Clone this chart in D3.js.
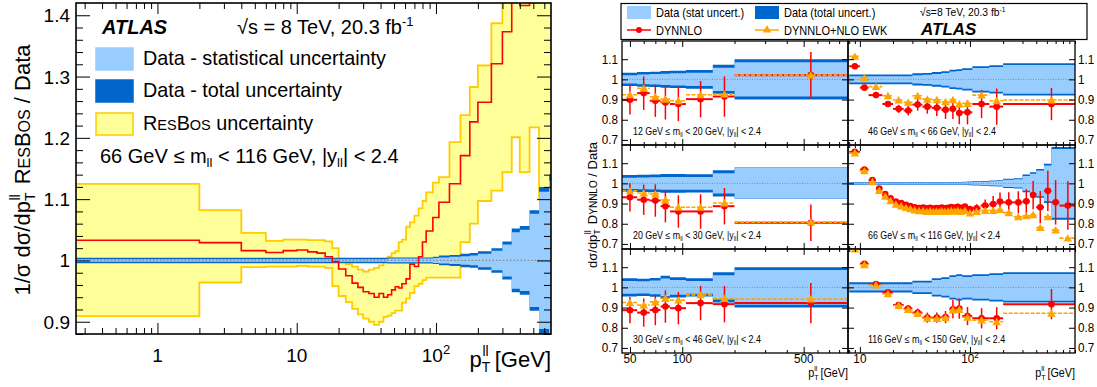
<!DOCTYPE html>
<html>
<head>
<meta charset="utf-8">
<script src="https://cdn.jsdelivr.net/npm/d3@7"></script>
<style>
  body { margin: 0; background: #fff; }
  svg { display: block; font-family: "Liberation Sans", Arial, Helvetica, sans-serif; }
</style>
</head>
<body>
<svg id="chart" width="1097" height="387"></svg>
<script>
// ---------- left plot: ResBos / data, 66 < m < 116 GeV ----------
const ptEdges = [0,2,4,6,8,10,12,14,16,18,20,22.5,25,27.5,30,33,36,39,42,45,48,51,54,57,61,65,70,75,80,85,95,105,125,150,175,200,250,300,350,400,470,550,650,900];
const resbosRatio = [1.033,1.029,1.016,1.013,1.016,1.017,1.014,1.012,1.006,0.998,
  0.986,0.975,0.963,0.956,0.949,0.946,0.940,0.946,0.940,0.944,
  0.952,0.957,0.955,0.962,0.970,0.994,0.990,1.006,1.030,1.048,
  1.070,1.095,1.125,1.171,1.226,1.258,1.321,1.373,1.440,1.416,
  1.460,1.500,1.500];
const resbosHigh = [1.125,1.082,1.045,1.032,1.034,1.034,1.033,1.033,1.031,1.020,
  1.003,0.994,0.990,0.985,0.982,0.985,0.988,0.992,1.000,1.006,
  1.012,1.015,1.030,1.034,1.055,1.062,1.073,1.085,1.097,1.111,
  1.127,1.136,1.193,1.237,1.283,1.318,1.387,1.500,1.500,1.500,
  1.500,1.500,1.500];
const resbosLow = [0.909,0.964,0.989,0.990,0.990,0.991,0.990,0.990,0.988,0.958,
  0.942,0.932,0.921,0.912,0.905,0.900,0.895,0.900,0.908,0.910,
  0.914,0.918,0.918,0.931,0.938,0.947,0.958,0.962,0.968,0.972,
  0.972,0.972,0.972,1.030,1.060,1.097,1.114,1.144,1.201,1.144,
  1.217,1.100,1.100];
const dataTotErr = [0.0045,0.0045,0.0045,0.0045,0.0045,0.0045,0.0045,0.0045,0.0045,0.0045,
  0.0045,0.0045,0.0045,0.0045,0.0045,0.0045,0.0045,0.0045,0.0045,0.005,
  0.005,0.005,0.005,0.005,0.005,0.005,0.005,0.005,0.005,0.005,
  0.006,0.008,0.009,0.011,0.012,0.015,0.020,0.031,0.052,0.056,
  0.082,0.120,0.140];
const dataStatErr = [0.002,0.002,0.002,0.002,0.002,0.002,0.002,0.002,0.002,0.002,
  0.002,0.002,0.002,0.002,0.002,0.002,0.002,0.002,0.002,0.003,
  0.003,0.003,0.003,0.003,0.003,0.003,0.003,0.003,0.003,0.003,
  0.004,0.005,0.006,0.007,0.008,0.011,0.016,0.026,0.046,0.050,
  0.076,0.112,0.130];

// ---------- right plots: DYNNLO / data in mass bins ----------
const massLo = [12, 46, 20, 66, 30, 116];
const massHi = [20, 66, 30, 116, 46, 150];

const lowEdges = [45,55,65,75,85,105,150,200,900];
const m12Dynnlo = [0.899,0.932,0.894,0.886,0.878,0.902,0.915,1.021];
const m12Ewk    = [0.924,0.956,0.914,0.902,0.894,0.924,0.927,1.021];
const m12Err    = [0.073,0.083,0.080,0.085,0.085,0.090,0.100,0.115];
const m12Tot    = [0.033,0.036,0.038,0.041,0.043,0.046,0.072,0.100];
const m12Stat   = [0.021,0.024,0.026,0.028,0.030,0.033,0.057,0.085];

const m20Dynnlo = [0.931,0.919,0.915,0.887,0.861,0.861,0.887,0.805];
const m20Ewk    = [0.963,0.952,0.947,0.918,0.882,0.882,0.903,0.808];
const m20Err    = [0.070,0.075,0.080,0.080,0.080,0.085,0.090,0.090];
const m20Tot    = [0.042,0.043,0.044,0.046,0.046,0.045,0.065,0.078];
const m20Stat   = [0.028,0.029,0.030,0.032,0.032,0.032,0.050,0.076];

const m30Dynnlo = [0.887,0.875,0.888,0.905,0.897,0.922,0.917,0.922];
const m30Ewk    = [0.925,0.912,0.928,0.945,0.937,0.963,0.945,0.942];
const m30Err    = [0.065,0.070,0.075,0.080,0.080,0.085,0.090,0.100];
const m30Tot    = [0.045,0.043,0.047,0.058,0.050,0.045,0.075,0.100];
const m30Stat   = [0.032,0.030,0.034,0.044,0.036,0.032,0.060,0.086];

const midEdges = [8,10,12,16,20,25,30,37,45,55,65,75,85,105,150,200,900];
const m46Dynnlo = [1.065,0.959,0.922,0.878,0.854,0.846,0.875,0.865,0.859,0.849,0.854,0.833,0.837,0.878,0.865,0.878];
const m46Ewk    = [1.114,1.008,0.964,0.919,0.898,0.886,0.919,0.902,0.899,0.889,0.899,0.878,0.881,0.922,0.894,0.898];
const m46Err    = [0.008,0.010,0.010,0.015,0.020,0.025,0.030,0.035,0.040,0.045,0.050,0.055,0.060,0.070,0.090,0.080];
const m46Tot    = [0.024,0.024,0.024,0.024,0.024,0.024,0.030,0.032,0.036,0.040,0.048,0.050,0.055,0.065,0.070,0.080];
const m46Stat   = [0.016,0.016,0.016,0.016,0.016,0.016,0.021,0.023,0.027,0.031,0.039,0.041,0.046,0.056,0.061,0.071];

const m116Dynnlo = [1.205,1.117,1.017,0.975,0.913,0.895,0.875,0.850,0.850,0.853,0.892,0.895,0.858,0.847,0.847,0.917];
const m116Ewk    = [1.190,1.112,1.012,0.968,0.910,0.890,0.870,0.847,0.846,0.850,0.888,0.890,0.852,0.838,0.830,0.872];
const m116Err    = [0.008,0.010,0.010,0.012,0.015,0.018,0.020,0.025,0.025,0.030,0.045,0.050,0.045,0.050,0.055,0.075];
const m116Tot    = [0.025,0.025,0.025,0.025,0.025,0.025,0.033,0.033,0.045,0.050,0.060,0.065,0.060,0.065,0.070,0.075];
const m116Stat   = [0.016,0.016,0.016,0.016,0.016,0.016,0.024,0.024,0.036,0.041,0.051,0.056,0.051,0.056,0.061,0.066];

const fineEdges = [8,10,12,14,16,18,20,22.5,25,27.5,30,33,36,39,42,45,48,51,54,57,61,65,70,75,80,85,95,105,125,150,175,200,250,300,350,400,470,550,650,900];
const m66Dynnlo = [1.156,1.068,1.016,0.974,0.947,0.926,0.910,0.902,0.894,0.888,
  0.882,0.878,0.880,0.876,0.879,0.875,0.878,0.876,0.880,0.877,
  0.879,0.883,0.880,0.884,0.879,0.885,0.873,0.877,0.890,0.898,
  0.910,0.906,0.906,0.911,0.942,0.882,0.963,0.906,0.890];
const m66Ewk = [1.150,1.062,1.008,0.964,0.936,0.914,0.897,0.888,0.880,0.874,
  0.868,0.864,0.865,0.861,0.864,0.860,0.862,0.860,0.864,0.861,
  0.862,0.866,0.862,0.866,0.860,0.866,0.853,0.861,0.866,0.866,
  0.870,0.855,0.834,0.839,0.845,0.781,0.834,0.769,0.729];
const m66Err = [0.004,0.004,0.004,0.004,0.004,0.004,0.004,0.004,0.004,0.004,
  0.005,0.005,0.005,0.005,0.005,0.006,0.006,0.006,0.007,0.007,
  0.008,0.008,0.009,0.010,0.011,0.012,0.015,0.020,0.030,0.040,
  0.045,0.050,0.055,0.060,0.070,0.080,0.100,0.110,0.120];
const m66Tot = [0.007,0.007,0.007,0.007,0.007,0.007,0.007,0.007,0.007,0.007,
  0.007,0.007,0.007,0.007,0.007,0.007,0.007,0.007,0.007,0.007,
  0.007,0.007,0.007,0.007,0.007,0.008,0.009,0.010,0.012,0.014,
  0.016,0.023,0.025,0.044,0.055,0.071,0.097,0.180,0.180];
const m66Stat = [0.004,0.004,0.004,0.004,0.004,0.004,0.004,0.004,0.004,0.004,
  0.004,0.004,0.004,0.004,0.004,0.004,0.004,0.004,0.004,0.004,
  0.004,0.004,0.004,0.004,0.004,0.005,0.006,0.007,0.008,0.010,
  0.012,0.018,0.020,0.037,0.048,0.064,0.089,0.170,0.170];

const lightBlue = "#99ccff", darkBlue = "#0066cc", yellow = "#ffff99", yellowEdge = "#ffcc00";
const red = "#ff0000", orange = "#ffa500";

const svg = d3.select("#chart");
const defs = svg.append("defs");

// step polygon between lo and hi values over bins
function stepBand(edges, lo, hi, x, y) {
  const xmin = x.domain()[0] * 0.98;
  const pts = [];
  lo.forEach((v, i) => {
    pts.push({x: Math.max(edges[i], xmin), lo: lo[i], hi: hi[i]});
    pts.push({x: edges[i + 1], lo: lo[i], hi: hi[i]});
  });
  return d3.area().x(d => x(d.x)).y0(d => y(d.lo)).y1(d => y(d.hi))(pts);
}
function stepLine(edges, vals, x, y) {
  const xmin = x.domain()[0] * 0.98;
  const pts = [];
  vals.forEach((v, i) => {
    pts.push([Math.max(edges[i], xmin), v]);
    pts.push([edges[i + 1], v]);
  });
  return d3.line().x(d => x(d[0])).y(d => y(d[1]))(pts);
}
function ticks(g, axis, size, values) {
  g.call(axis.tickValues(values).tickSize(size).tickFormat(""));
  g.select(".domain").remove();
  g.selectAll("line").attr("stroke", "#000");
}
function txt(parent, x, y, size, anchor, sx) {
  return parent.append("text")
    .attr("transform", `translate(${x},${y}) scale(${sx || 1},1)`)
    .attr("font-size", size)
    .attr("text-anchor", anchor || "start");
}
function massText(t, lo, hi, dy) {
  t.append("tspan").text(`${lo} GeV ≤ m`);
  t.append("tspan").attr("font-size", "65%").attr("dy", dy).text("ll");
  t.append("tspan").attr("dy", -dy).text(` < ${hi} GeV, |y`);
  t.append("tspan").attr("font-size", "65%").attr("dy", dy).text("ll");
  t.append("tspan").attr("dy", -dy).text("| < 2.4");
}
function ptTitle(t, sub, dxs, up) {
  t.append("tspan").text("p");
  t.append("tspan").attr("font-size", sub).attr("dy", up * 0.4).text("T");
  t.append("tspan").attr("font-size", sub).attr("dx", dxs).attr("dy", -up * 1.3).text("ll");
  t.append("tspan").attr("dy", up * 0.9).text(" [GeV]");
}

// ================= LEFT PLOT =================
const L = {x0: 76, x1: 551, y0: 3, y1: 334};
const xL = d3.scaleLog().domain([0.26, 670]).range([L.x0, L.x1]);
const yL = d3.scaleLinear().domain([0.88, 1.42]).range([L.y1, L.y0]);

defs.append("clipPath").attr("id", "clipL").append("rect")
  .attr("x", L.x0).attr("y", L.y0).attr("width", L.x1 - L.x0).attr("height", L.y1 - L.y0);
const gL = svg.append("g").attr("clip-path", "url(#clipL)");

gL.append("path").attr("d", stepBand(ptEdges, resbosLow, resbosHigh, xL, yL))
  .attr("fill", yellow).attr("stroke", yellowEdge).attr("stroke-width", 1.8);
gL.append("path").attr("d", stepBand(ptEdges, dataTotErr.map(e => 1 - e), dataTotErr.map(e => 1 + e), xL, yL))
  .attr("fill", darkBlue);
gL.append("path").attr("d", stepBand(ptEdges, dataStatErr.map(e => 1 - e), dataStatErr.map(e => 1 + e), xL, yL))
  .attr("fill", lightBlue);
gL.append("line").attr("x1", L.x0).attr("x2", L.x1).attr("y1", yL(1)).attr("y2", yL(1))
  .attr("stroke", "#888").attr("stroke-width", 1.2).attr("stroke-dasharray", "1.5,2");
gL.append("path").attr("d", stepLine(ptEdges, resbosRatio, xL, yL))
  .attr("fill", "none").attr("stroke", red).attr("stroke-width", 1.6);

// axes ticks
const yMajorL = [0.9, 1.0, 1.1, 1.2, 1.3, 1.4];
const yMinorL = d3.range(44, 71).map(k => k / 50).filter(v => !yMajorL.some(m => Math.abs(m - v) < 1e-6));
const xMajorL = [1, 10, 100];
const xMinorL = [0.3,0.4,0.5,0.6,0.7,0.8,0.9,2,3,4,5,6,7,8,9,20,30,40,50,60,70,80,90,200,300,400,500,600];
ticks(svg.append("g").attr("transform", `translate(${L.x0},0)`), d3.axisLeft(yL), -14, yMajorL);
ticks(svg.append("g").attr("transform", `translate(${L.x0},0)`), d3.axisLeft(yL), -7, yMinorL);
ticks(svg.append("g").attr("transform", `translate(${L.x1},0)`), d3.axisRight(yL), -14, yMajorL);
ticks(svg.append("g").attr("transform", `translate(${L.x1},0)`), d3.axisRight(yL), -7, yMinorL);
ticks(svg.append("g").attr("transform", `translate(0,${L.y1})`), d3.axisBottom(xL), -11, xMajorL);
ticks(svg.append("g").attr("transform", `translate(0,${L.y1})`), d3.axisBottom(xL), -6, xMinorL);
ticks(svg.append("g").attr("transform", `translate(0,${L.y0})`), d3.axisTop(xL), -11, xMajorL);
ticks(svg.append("g").attr("transform", `translate(0,${L.y0})`), d3.axisTop(xL), -6, xMinorL);
svg.append("rect").attr("x", L.x0).attr("y", L.y0).attr("width", L.x1 - L.x0).attr("height", L.y1 - L.y0)
  .attr("fill", "none").attr("stroke", "#000").attr("stroke-width", 1.6);

yMajorL.forEach(v => {
  txt(svg, L.x0 - 6, yL(v) + 7, 19, "end").text(v === 1 ? "1" : v.toFixed(1));
});
xMajorL.forEach(v => {
  const t = txt(svg, xL(v), 362, 19, "middle");
  if (v === 100) {
    t.append("tspan").text("10");
    t.append("tspan").attr("font-size", 13).attr("dy", -8).text("2");
  } else t.text(v);
});
ptTitle(txt(svg, L.x1, 367, 22, "end"), 14, -8, 12);

const ytL = txt(svg, 0, 0, 22, "middle").attr("transform", "translate(30,170) rotate(-90)");
ytL.append("tspan").text("1/σ dσ/dp");
ytL.append("tspan").attr("font-size", 14).attr("dy", 5).text("T");
ytL.append("tspan").attr("font-size", 14).attr("dx", -8).attr("dy", -15).text("ll");
ytL.append("tspan").attr("dy", 10).attr("dx", 10).text("R");
ytL.append("tspan").attr("font-size", 16).text("ES");
ytL.append("tspan").text("B");
ytL.append("tspan").attr("font-size", 16).text("OS");
ytL.append("tspan").text(" / Data");

// legend of left plot
txt(svg, 102, 34, 20, "start").attr("font-weight", "bold").attr("font-style", "italic").text("ATLAS");
const sL = txt(svg, 237, 34, 20, "start");
sL.append("tspan").text("√s = 8 TeV, 20.3 fb");
sL.append("tspan").attr("font-size", 13).attr("dy", -8).text("-1");
const legL = [
  {fill: lightBlue, stroke: lightBlue, y: 48, label: "Data - statistical uncertainty"},
  {fill: darkBlue, stroke: darkBlue, y: 80, label: "Data - total uncertainty"},
  {fill: yellow, stroke: yellowEdge, y: 113, label: null}
];
legL.forEach(d => {
  svg.append("rect").attr("x", 96).attr("y", d.y).attr("width", 37).attr("height", 22)
    .attr("fill", d.fill).attr("stroke", d.stroke).attr("stroke-width", 1.5);
  const t = txt(svg, 143, d.y + 17, 19.8, "start");
  if (d.label) t.text(d.label);
  else {
    t.append("tspan").text("R");
    t.append("tspan").attr("font-size", 14.5).text("ES");
    t.append("tspan").text("B");
    t.append("tspan").attr("font-size", 14.5).text("OS");
    t.append("tspan").text(" uncertainty");
  }
});
massText(txt(svg, 100, 163, 20, "start"), 66, 116, 4);

// ================= RIGHT PLOTS =================
const rowTops = [41, 145, 249];
const rowH = 104;
const xA = d3.scaleLog().domain([45, 900]).range([622, 848]);
const xB = d3.scaleLog().domain([7.8, 900]).range([848, 1075]);

const panels = [
  {col: 0, row: 0, edges: lowEdges, dy: m12Dynnlo, ewk: m12Ewk, err: m12Err, tot: m12Tot, stat: m12Stat},
  {col: 1, row: 0, edges: midEdges, dy: m46Dynnlo, ewk: m46Ewk, err: m46Err, tot: m46Tot, stat: m46Stat},
  {col: 0, row: 1, edges: lowEdges, dy: m20Dynnlo, ewk: m20Ewk, err: m20Err, tot: m20Tot, stat: m20Stat},
  {col: 1, row: 1, edges: fineEdges, dy: m66Dynnlo, ewk: m66Ewk, err: m66Err, tot: m66Tot, stat: m66Stat},
  {col: 0, row: 2, edges: lowEdges, dy: m30Dynnlo, ewk: m30Ewk, err: m30Err, tot: m30Tot, stat: m30Stat},
  {col: 1, row: 2, edges: midEdges, dy: m116Dynnlo, ewk: m116Ewk, err: m116Err, tot: m116Tot, stat: m116Stat}
];

const yMajorR = [0.7, 0.8, 0.9, 1.0, 1.1];
const triangle = d3.symbol().type(d3.symbolTriangle).size(32);

panels.forEach((p, i) => {
  const x = p.col ? xB : xA;
  const top = rowTops[p.row];
  const y = d3.scaleLinear().domain([0.675, 1.19]).range([top + rowH, top]);
  const [x0, x1] = x.range();
  defs.append("clipPath").attr("id", "clipR" + i).append("rect")
    .attr("x", x0).attr("y", top).attr("width", x1 - x0).attr("height", rowH);
  const g = svg.append("g").attr("clip-path", `url(#clipR${i})`);

  g.append("path").attr("d", stepBand(p.edges, p.tot.map(e => 1 - e), p.tot.map(e => 1 + e), x, y)).attr("fill", darkBlue);
  g.append("path").attr("d", stepBand(p.edges, p.stat.map(e => 1 - e), p.stat.map(e => 1 + e), x, y)).attr("fill", lightBlue);
  g.append("line").attr("x1", x0).attr("x2", x1).attr("y1", y(1)).attr("y2", y(1))
    .attr("stroke", "#888").attr("stroke-dasharray", "1,1.5");

  const pts = p.dy.map((v, k) => ({
    lo: p.edges[k], hi: p.edges[k + 1], c: (p.edges[k] + p.edges[k + 1]) / 2,
    v: v, e: p.ewk[k], err: p.err[k]
  }));
  g.selectAll(null).data(pts).join("line")
    .attr("x1", d => x(d.lo)).attr("x2", d => x(d.hi)).attr("y1", d => y(d.v)).attr("y2", d => y(d.v))
    .attr("stroke", red).attr("stroke-width", 2);
  g.selectAll(null).data(pts).join("line")
    .attr("x1", d => x(d.c)).attr("x2", d => x(d.c)).attr("y1", d => y(d.v - d.err)).attr("y2", d => y(d.v + d.err))
    .attr("stroke", red).attr("stroke-width", 1.5);
  g.selectAll(null).data(pts).join("circle")
    .attr("cx", d => x(d.c)).attr("cy", d => y(d.v)).attr("r", 3.3).attr("fill", red);
  g.selectAll(null).data(pts).join("line")
    .attr("x1", d => x(d.lo)).attr("x2", d => x(d.hi)).attr("y1", d => y(d.e)).attr("y2", d => y(d.e))
    .attr("stroke", orange).attr("stroke-width", 1.6).attr("stroke-dasharray", "4,1.5");
  g.selectAll(null).data(pts).join("path")
    .attr("d", triangle).attr("transform", d => `translate(${x(d.c)},${y(d.e) + 1})`).attr("fill", orange);

  const xMajor = p.col ? [10, 100] : [50, 100, 500];
  const xMinor = p.col ? [8,9,20,30,40,50,60,70,80,90,200,300,400,500,600,700,800,900]
                       : [60,70,80,90,200,300,400,600,700,800,900];
  ticks(svg.append("g").attr("transform", `translate(${x0},0)`), d3.axisLeft(y), -6, yMajorR);
  ticks(svg.append("g").attr("transform", `translate(${x1},0)`), d3.axisRight(y), -6, yMajorR);
  ticks(svg.append("g").attr("transform", `translate(0,${top + rowH})`), d3.axisBottom(x), -6, xMajor);
  ticks(svg.append("g").attr("transform", `translate(0,${top + rowH})`), d3.axisBottom(x), -3, xMinor);
  ticks(svg.append("g").attr("transform", `translate(0,${top})`), d3.axisTop(x), -6, xMajor);
  ticks(svg.append("g").attr("transform", `translate(0,${top})`), d3.axisTop(x), -3, xMinor);
  svg.append("rect").attr("x", x0).attr("y", top).attr("width", x1 - x0).attr("height", rowH)
    .attr("fill", "none").attr("stroke", "#000").attr("stroke-width", 1.3);

  yMajorR.forEach(v => {
    const lbl = v === 1 ? "1" : v.toFixed(1);
    if (p.col) txt(svg, x1 + 3, y(v) + 4.5, 13, "start", 0.9).text(lbl);
    else txt(svg, x0 - 4, y(v) + 4.5, 13, "end", 0.9).text(lbl);
  });
  massText(txt(svg, x0 + (p.col ? 20 : 11), top + 94, 10.3, "start", 0.86), massLo[i], massHi[i], 2);

  if (p.row === 2) {
    xMajor.forEach(v => {
      const t = txt(svg, x(v), 363, 13, "middle", 0.9);
      if (v === 100 && p.col) {
        t.append("tspan").text("10");
        t.append("tspan").attr("font-size", 9).attr("dy", -5).text("2");
      } else t.text(v);
    });
    ptTitle(txt(svg, x1, 377, 12, "end", 0.9), 8, -5, 7);
  }
});

// y title of right plots
const ytR = txt(svg, 0, 0, 13, "middle").attr("transform", "translate(597,205) rotate(-90)");
ytR.append("tspan").text("dσ/dp");
ytR.append("tspan").attr("font-size", 9).attr("dy", 3).text("T");
ytR.append("tspan").attr("font-size", 9).attr("dx", -5).attr("dy", -9).text("ll");
ytR.append("tspan").attr("dy", 6).attr("dx", 6).text("D");
ytR.append("tspan").attr("font-size", 10).text("YNNLO");
ytR.append("tspan").text(" / Data");

// legend of right plots
const lg = svg.append("g");
lg.append("rect").attr("x", 621).attr("y", 3.5).attr("width", 466).attr("height", 36)
  .attr("fill", "#fff").attr("stroke", "#000").attr("stroke-width", 1.2);
lg.append("rect").attr("x", 627).attr("y", 6).attr("width", 24).attr("height", 13).attr("fill", lightBlue);
txt(lg, 656, 16.5, 12, "start", 0.92).text("Data (stat uncert.)");
lg.append("rect").attr("x", 755).attr("y", 6).attr("width", 24).attr("height", 13).attr("fill", darkBlue);
txt(lg, 784, 16.5, 12, "start", 0.92).text("Data (total uncert.)");
const sR = txt(lg, 920, 15.5, 11.5, "start", 0.9);
sR.append("tspan").text("√s=8 TeV, 20.3 fb");
sR.append("tspan").attr("font-size", 7.5).attr("dy", -4).text("-1");
lg.append("line").attr("x1", 627).attr("x2", 651).attr("y1", 30).attr("y2", 30).attr("stroke", red).attr("stroke-width", 1.5);
lg.append("circle").attr("cx", 639).attr("cy", 30).attr("r", 3).attr("fill", red);
txt(lg, 656, 34.5, 12, "start", 0.92).text("DYNNLO");
lg.append("line").attr("x1", 755).attr("x2", 779).attr("y1", 30).attr("y2", 30).attr("stroke", orange).attr("stroke-width", 1.5);
lg.append("path").attr("d", triangle).attr("transform", "translate(767,30)").attr("fill", orange);
txt(lg, 784, 34.5, 12, "start", 0.92).text("DYNNLO+NLO EWK");
txt(lg, 921, 35, 17, "start").attr("font-weight", "bold").attr("font-style", "italic").text("ATLAS");
</script>
</body>
</html>
